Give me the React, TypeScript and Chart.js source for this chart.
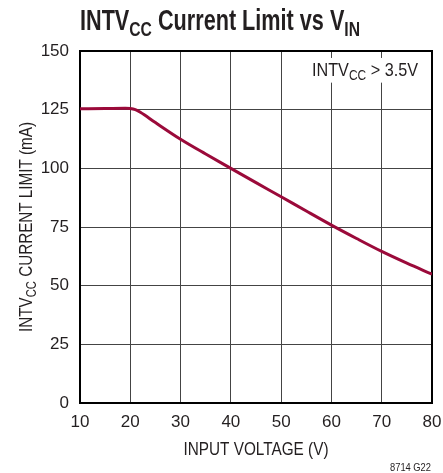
import React, { useEffect, useRef } from "react";
import { Chart, registerables } from "chart.js";

Chart.register(...registerables);

const inputVoltage = [10, 15, 19, 20, 21, 22, 25, 30, 35, 40, 45, 50, 55, 60, 65, 70, 75, 80];
const currentLimit = [125.4, 125.5, 125.6, 125.5, 125.0, 123.9, 119.5, 112.4, 106.1, 100.0, 93.9, 87.9, 81.8, 75.8, 70.1, 64.6, 59.6, 54.9];
const xTicks = [10, 20, 30, 40, 50, 60, 70, 80];
const yTicks = [0, 25, 50, 75, 100, 125, 150];

const FONT = "'Liberation Sans', Arial, sans-serif";
const TEXT = "#231f20";

type Seg = { t: string; sub?: boolean };

function richWidth(ctx: CanvasRenderingContext2D, segs: Seg[], size: number, weight: string) {
  let w = 0;
  for (const s of segs) {
    ctx.font = `${weight} ${s.sub ? Math.round(size * 0.72) : size}px ${FONT}`;
    w += ctx.measureText(s.t).width;
  }
  return w;
}

// draws text with subscripts; fitWidth squeezes it horizontally like a condensed face
function drawRich(
  ctx: CanvasRenderingContext2D,
  segs: Seg[],
  x: number,
  y: number,
  size: number,
  weight: string,
  align: "left" | "center" | "right",
  fitWidth?: number,
  backdrop?: boolean
) {
  const w = richWidth(ctx, segs, size, weight);
  const sx = fitWidth ? fitWidth / w : 1;
  const total = w * sx;
  const start = align === "left" ? x : align === "center" ? x - total / 2 : x - total;
  if (backdrop) {
    ctx.save();
    ctx.fillStyle = "#fff";
    ctx.fillRect(start - 4, y - size * 0.95, total + 8, size * 1.3);
    ctx.restore();
  }
  ctx.save();
  ctx.translate(start, y);
  ctx.scale(sx, 1);
  ctx.textAlign = "left";
  ctx.textBaseline = "alphabetic";
  let cx = 0;
  for (const s of segs) {
    const fs = s.sub ? Math.round(size * 0.72) : size;
    ctx.font = `${weight} ${fs}px ${FONT}`;
    ctx.fillText(s.t, cx, s.sub ? size * 0.22 : 0);
    cx += ctx.measureText(s.t).width;
  }
  ctx.restore();
}

const textPlugin = {
  id: "richText",
  beforeDatasetsDraw(chart: any) {
    const { ctx, chartArea } = chart;
    ctx.save();
    ctx.strokeStyle = "#000";
    ctx.lineWidth = 2;
    ctx.strokeRect(chartArea.left, chartArea.top, chartArea.right - chartArea.left, chartArea.bottom - chartArea.top);
    ctx.fillStyle = TEXT;
    drawRich(ctx, [{ t: "INTV" }, { t: "CC", sub: true }, { t: " > 3.5V" }], 418, 76, 19, "normal", "right", 106, true);
    ctx.restore();
  },
  afterDraw(chart: any) {
    const { ctx, chartArea } = chart;
    ctx.save();
    ctx.fillStyle = TEXT;
    drawRich(
      ctx,
      [{ t: "INTV" }, { t: "CC", sub: true }, { t: " Current Limit vs V" }, { t: "IN", sub: true }],
      80,
      30,
      29,
      "bold",
      "left",
      280
    );
    drawRich(ctx, [{ t: "INPUT VOLTAGE (V)" }], (chartArea.left + chartArea.right) / 2, 455, 19, "normal", "center", 145);
    ctx.save();
    ctx.translate(32, (chartArea.top + chartArea.bottom) / 2);
    ctx.rotate(-Math.PI / 2);
    drawRich(ctx, [{ t: "INTV" }, { t: "CC", sub: true }, { t: " CURRENT LIMIT (mA)" }], 0, 0, 19, "normal", "center", 210);
    ctx.restore();
    drawRich(ctx, [{ t: "8714 G22" }], 431, 471, 11, "normal", "right", 41);
    ctx.restore();
  },
};

export default function App() {
  const ref = useRef<HTMLCanvasElement | null>(null);
  useEffect(() => {
    if (!ref.current) return;
    const chart = new Chart(ref.current, {
      type: "line",
      data: {
        datasets: [
          {
            data: inputVoltage.map((x, i) => ({ x, y: currentLimit[i] })),
            borderColor: "#9b0a3a",
            borderWidth: 3,
            pointRadius: 0,
            cubicInterpolationMode: "monotone",
            fill: false,
          },
        ],
      },
      options: {
        responsive: false,
        animation: false,
        layout: { padding: { top: 51, right: 11, left: 0, bottom: 0 } },
        plugins: { legend: { display: false }, tooltip: { enabled: false }, title: { display: false } },
        scales: {
          x: {
            type: "linear",
            min: 10,
            max: 80,
            afterBuildTicks: (s: any) => {
              s.ticks = xTicks.map((v) => ({ value: v }));
            },
            afterFit: (s: any) => {
              s.height = 70;
              s.paddingLeft = 0;
              s.paddingRight = 0;
            },
            grid: { color: "#444", lineWidth: 1, drawTicks: false },
            border: { display: false },
            ticks: { color: TEXT, padding: 9, font: { family: FONT, size: 17 }, maxRotation: 0 },
          },
          y: {
            type: "linear",
            min: 0,
            max: 150,
            afterBuildTicks: (s: any) => {
              s.ticks = yTicks.map((v) => ({ value: v }));
            },
            afterFit: (s: any) => {
              s.width = 80;
              s.paddingTop = 0;
              s.paddingBottom = 0;
            },
            grid: { color: "#444", lineWidth: 1, drawTicks: false },
            border: { display: false },
            ticks: { color: TEXT, padding: 11, font: { family: FONT, size: 17 } },
          },
        },
      },
      plugins: [textPlugin],
    } as any);
    return () => chart.destroy();
  }, []);
  return (
    <div style={{ position: "fixed", left: 0, top: 0, width: 443, height: 473, background: "#fff" }}>
      <canvas ref={ref} width={443} height={473} style={{ display: "block", width: 443, height: 473 }} />
    </div>
  );
}
